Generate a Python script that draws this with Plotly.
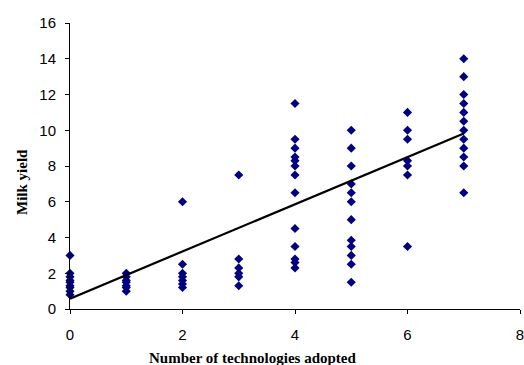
import plotly.graph_objects as go

tech_0 = [3.0, 2.0, 1.8, 1.6, 1.5, 1.3, 1.2, 1.0, 0.8]
tech_1 = [2.0, 1.8, 1.6, 1.5, 1.3, 1.2, 1.0]
tech_2 = [6.0, 2.5, 2.0, 1.8, 1.6, 1.4, 1.2]
tech_3 = [7.5, 2.8, 2.3, 2.0, 1.8, 1.3]
tech_4 = [11.5, 9.5, 9.0, 8.5, 8.3, 8.0, 7.5, 6.5, 4.5, 3.5, 2.8, 2.6, 2.3]
tech_5 = [10.0, 9.0, 8.0, 7.0, 6.5, 6.0, 5.0, 3.85, 3.5, 3.0, 2.5, 1.5]
tech_6 = [11.0, 10.0, 9.5, 8.3, 8.0, 7.5, 3.5]
tech_7 = [14.0, 13.0, 12.0, 11.5, 11.0, 10.5, 10.0, 9.5, 9.0, 8.5, 8.0, 6.5]

# linear trend line
trend_x = [0, 7]
trend_y = [0.58, 9.82]

x_ticks = [0, 2, 4, 6, 8]
y_ticks = [0, 2, 4, 6, 8, 10, 12, 14, 16]

groups = [tech_0, tech_1, tech_2, tech_3, tech_4, tech_5, tech_6, tech_7]
x_vals = []
y_vals = []
for n, g in enumerate(groups):
    x_vals += [n] * len(g)
    y_vals += g

W, H = 524, 365
ML, MR, MT, MB = 70, 4, 23, 56

fig = go.Figure()
fig.add_trace(go.Scatter(
    x=x_vals, y=y_vals, mode="markers",
    marker=dict(symbol="diamond", color="#000080", size=7, line=dict(width=0)),
    showlegend=False, cliponaxis=False,
))
fig.add_trace(go.Scatter(
    x=trend_x, y=trend_y, mode="lines",
    line=dict(color="black", width=2.2), showlegend=False,
))

axis_font = dict(family="Liberation Sans, Arial", size=15, color="black")
title_font = dict(family="Liberation Serif, Times New Roman", size=15, color="black")

pw = W - ML - MR
ph = H - MT - MB


def px_to_paper(px, py):
    return (px - ML) / pw, (H - MB - py) / ph


xt_x, xt_y = px_to_paper(252, 358)
yt_x, yt_y = px_to_paper(22, 182)

fig.update_layout(
    width=W, height=H,
    margin=dict(l=ML, r=MR, t=MT, b=MB, autoexpand=False),
    paper_bgcolor="white", plot_bgcolor="white",
    xaxis=dict(range=[0, 8], tickvals=x_ticks, showgrid=False, zeroline=False,
               showline=True, linecolor="black", linewidth=1, automargin=False,
               ticks="outside", ticklen=4, tickcolor="black",
               tickfont=axis_font, ticklabelstandoff=8,
               ticklabeloverflow="allow"),
    yaxis=dict(range=[0, 16], tickvals=y_ticks, showgrid=False, zeroline=False,
               showline=True, linecolor="black", linewidth=1, automargin=False,
               ticks="outside", ticklen=4, tickcolor="black",
               tickfont=axis_font, ticklabelstandoff=6,
               ticklabeloverflow="allow"),
    annotations=[
        dict(text="<b>Number of technologies adopted</b>", x=xt_x, y=xt_y,
             xref="paper", yref="paper", xanchor="center", yanchor="middle",
             showarrow=False, font=title_font),
        dict(text="<b>Milk yield</b>", x=yt_x, y=yt_y, textangle=-90,
             xref="paper", yref="paper", xanchor="center", yanchor="middle",
             showarrow=False, font=title_font),
    ],
)

fig.write_html("out.html", config={"displayModeBar": False},
               post_script="document.body.style.margin='0';document.body.style.overflow='hidden';")
